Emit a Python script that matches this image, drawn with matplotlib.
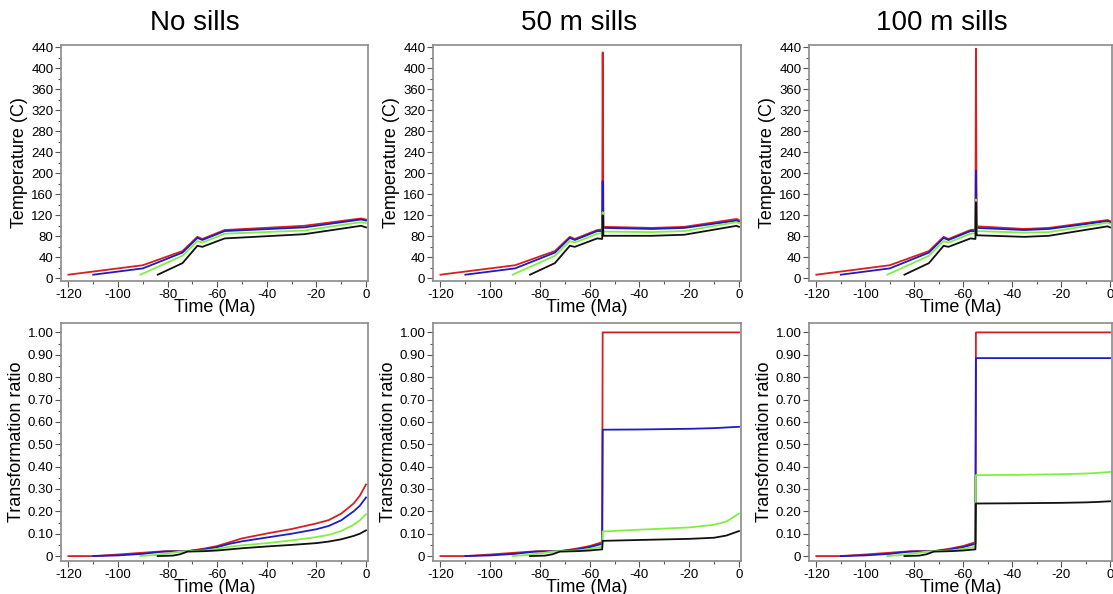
import matplotlib
matplotlib.use("Agg")
import matplotlib.pyplot as plt
from matplotlib.ticker import MultipleLocator, FuncFormatter

plt.rcParams['font.family'] = ['Liberation Sans', 'DejaVu Sans']
plt.rcParams['axes.unicode_minus'] = False

colors = ['#d81e1e', '#1c1cc8', '#80f040', '#111111']  # red, blue, green, black

# ---- temperature history (C), common part before the sill event ----
temp_t_pre = [[-120, -90, -74, -68, -66, -57],
              [-110, -90, -74, -68, -66, -57],
              [-91, -74, -68, -66, -57],
              [-84, -74, -68, -66, -57]]
temp_pre = [[7, 25, 52, 79, 75, 92],
            [7, 19, 49, 77, 73, 90],
            [7, 43, 71, 68, 85],
            [7, 29, 62, 60, 76]]

# no sills: tail after -57 Ma
temp_t_nosill = [-25, -2, 0]
temp_nosill = [[100, 114, 112], [97, 112, 110], [91, 107, 105], [84, 100, 97]]

# sills: value just before intrusion, peak, then tail
sill_t_before = -55.0
sill_t_peak = -54.8
temp_before = [93, 90, 86, 75]
temp_peak_50 = [430, 185, 126, 120]
temp_peak_100 = [437, 205, 150, 145]
temp_t_tail_50 = [-54.5, -35, -22, -1, 0]
temp_tail_50 = [[98, 96, 98, 113, 111], [96, 94, 96, 110, 108],
                [89, 88, 90, 107, 105], [81, 81, 83, 100, 98]]
temp_t_tail_100 = [-54.5, -35, -25, -1, 0]
temp_tail_100 = [[99, 94, 96, 111, 109], [96, 92, 94, 109, 107],
                 [90, 87, 88, 106, 104], [82, 79, 81, 99, 97]]

# ---- transformation ratio ----
tr_t_pre = [[-120, -110, -100, -85, -80, -72, -65, -60, -55],
            [-110, -100, -90, -82, -72, -65, -60, -55],
            [-91, -85, -80, -75, -72, -65, -60, -55],
            [-84, -78, -75, -72, -65, -60, -55]]
tr_pre = [[0, 0, 0.007, 0.019, 0.022, 0.022, 0.034, 0.045, 0.062],
          [0, 0.003, 0.01, 0.02, 0.022, 0.03, 0.04, 0.055],
          [0, 0.005, 0.012, 0.02, 0.022, 0.025, 0.032, 0.042],
          [0, 0.002, 0.008, 0.02, 0.022, 0.025, 0.03]]

tr_t_nosill = [-50, -40, -30, -20, -15, -10, -5, -2.5, 0]
tr_nosill = [[0.079, 0.101, 0.121, 0.146, 0.161, 0.19, 0.235, 0.27, 0.32],
             [0.066, 0.083, 0.10, 0.12, 0.135, 0.16, 0.20, 0.225, 0.262],
             [0.048, 0.058, 0.07, 0.085, 0.095, 0.112, 0.14, 0.16, 0.187],
             [0.035, 0.043, 0.05, 0.058, 0.065, 0.075, 0.09, 0.10, 0.115]]

tr_t_sill = [-54.8, -40, -20, -10, -5, 0]
tr_sill_50 = [[1, 1, 1, 1, 1, 1],
              [0.565, 0.566, 0.569, 0.572, 0.575, 0.578],
              [0.11, 0.118, 0.128, 0.14, 0.155, 0.19],
              [0.068, 0.072, 0.077, 0.082, 0.092, 0.112]]
tr_sill_100 = [[1, 1, 1, 1, 1, 1],
               [0.885, 0.885, 0.885, 0.885, 0.885, 0.885],
               [0.362, 0.363, 0.366, 0.369, 0.372, 0.376],
               [0.235, 0.236, 0.238, 0.240, 0.242, 0.245]]

titles = ['No sills', '50 m sills', '100 m sills']
title_x = [195, 579, 942]

W, H = 1113, 594
fig = plt.figure(figsize=(W / 100, H / 100), dpi=100)

lefts = [61, 433, 809]
rights = [368, 741, 1112]


def make_ax(l, r, top, bottom):
    return fig.add_axes([l / W, 1 - bottom / H, (r - l) / W, (bottom - top) / H])


def style(ax):
    for s in ax.spines.values():
        s.set_color('#8a8a8a')
        s.set_linewidth(1.2)
    ax.tick_params(which='major', length=4, width=0.8, color='#555555',
                   labelsize=9.5, pad=1.5)
    ax.tick_params(which='minor', length=2, width=0.8, color='#555555')
    ax.set_xlim(-123, 0.8)
    ax.xaxis.set_major_locator(MultipleLocator(20))
    ax.xaxis.set_minor_locator(MultipleLocator(10))
    ax.set_xlabel('Time (Ma)', fontsize=13, labelpad=-1)


for i in range(3):
    # temperature panel
    ax = make_ax(lefts[i], rights[i], 45, 281)
    for c in range(4):
        if i == 0:
            t = temp_t_pre[c] + temp_t_nosill
            v = temp_pre[c] + temp_nosill[c]
        elif i == 1:
            t = temp_t_pre[c] + [sill_t_before, sill_t_peak] + temp_t_tail_50
            v = temp_pre[c] + [temp_before[c], temp_peak_50[c]] + temp_tail_50[c]
        else:
            t = temp_t_pre[c] + [sill_t_before, sill_t_peak] + temp_t_tail_100
            v = temp_pre[c] + [temp_before[c], temp_peak_100[c]] + temp_tail_100[c]
        ax.plot(t, v, color=colors[c], lw=1.3)
    style(ax)
    ax.set_ylim(-5, 444)
    ax.yaxis.set_major_locator(MultipleLocator(40))
    ax.yaxis.set_minor_locator(MultipleLocator(20))
    ax.set_ylabel('Temperature (C)', fontsize=13, labelpad=2)

    # transformation ratio panel
    ax = make_ax(lefts[i], rights[i], 323, 561)
    for c in range(4):
        if i == 0:
            t = tr_t_pre[c] + tr_t_nosill
            v = tr_pre[c] + tr_nosill[c]
        elif i == 1:
            t = tr_t_pre[c] + tr_t_sill
            v = tr_pre[c] + tr_sill_50[c]
        else:
            t = tr_t_pre[c] + tr_t_sill
            v = tr_pre[c] + tr_sill_100[c]
        ax.plot(t, v, color=colors[c], lw=1.3)
    style(ax)
    ax.set_ylim(-0.022, 1.042)
    ax.yaxis.set_major_locator(MultipleLocator(0.1))
    ax.yaxis.set_minor_locator(MultipleLocator(0.05))
    ax.yaxis.set_major_formatter(FuncFormatter(
        lambda v, p: '0' if abs(v) < 1e-9 else f'{v:.2f}'))
    ax.set_ylabel('Transformation ratio', fontsize=13, labelpad=2)

    fig.text(title_x[i] / W, 1 - 23 / H, titles[i], fontsize=20,
             ha='center', va='center')

fig.savefig('out.png', dpi=100)
